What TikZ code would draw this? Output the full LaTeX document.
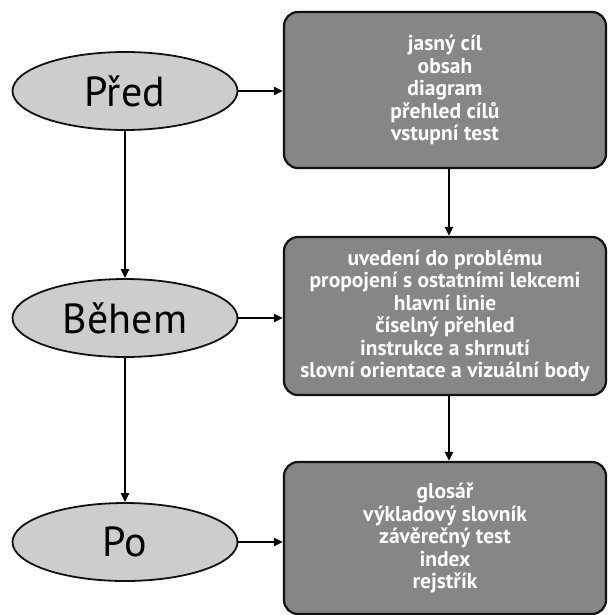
\documentclass[tikz,border=0pt]{standalone}
\usepackage{fontspec}
\setmainfont{PT Sans}
\usepackage{tikz}
\usetikzlibrary{arrows.meta, positioning, shapes.geometric}
\definecolor{boxgray}{HTML}{868686}
\definecolor{ovalgray}{HTML}{CDCDCD}
\definecolor{darkline}{HTML}{111111}

\begin{document}
\begin{tikzpicture}[
    x=1pt, y=-1pt,
    every node/.style={font=\rmfamily},
    phase/.style={ellipse, draw=darkline, line width=1.8pt, fill=ovalgray,
        minimum width=225pt, minimum height=78pt, inner sep=0pt,
        font=\rmfamily\fontsize{42}{46}\selectfont},
    itembox/.style={rectangle, rounded corners=14pt, draw=darkline, line width=2.2pt,
        fill=boxgray, text=white, align=center, minimum width=322pt, inner sep=0pt,
        font=\rmfamily\bfseries\fontsize{21.5}{22.5}\selectfont},
    link/.style={draw=black, line width=2.6pt, -{Triangle[length=9pt,width=8pt]}},
]
\useasboundingbox (0,0) rectangle (608,615);
% three phases
\node[phase] (pred)  at (125,91)  {Před};
\node[phase] (behem) at (125,318) {Během};
\node[phase] (po)    at (125,542) {Po};
% what belongs to each phase
\node[itembox, minimum height=156pt] (box1) at (445,90)  {jasný cíl\\obsah\\diagram\\přehled cílů\\vstupní test};
\node[itembox, minimum height=158pt] (box2) at (445,316) {uvedení do problému\\propojení s ostatními lekcemi\\hlavní linie\\číselný přehled\\instrukce a shrnutí\\slovní orientace a vizuální body};
\node[itembox, minimum height=152pt] (box3) at (445,538) {glosář\\výkladový slovník\\závěrečný test\\index\\rejstřík};
% connectors
\draw[link] (pred.east) -- (pred.east -| box1.west);
\draw[link] (behem.east) -- (behem.east -| box2.west);
\draw[link] (po.east) -- (po.east -| box3.west);
\draw[link] (pred.south) -- (behem.north);
\draw[link] (behem.south) -- (po.north);
\draw[link] ([xshift=4pt]box1.south) -- ([xshift=4pt]box2.north);
\draw[link] ([xshift=4pt]box2.south) -- ([xshift=4pt]box3.north);
\end{tikzpicture}
\end{document}
